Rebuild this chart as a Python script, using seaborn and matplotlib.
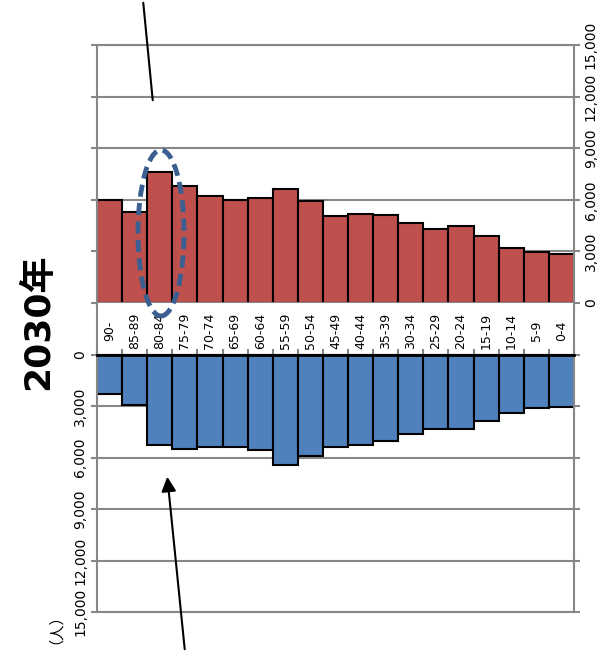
import seaborn as sns
import matplotlib.pyplot as plt
import pandas as pd
import numpy as np
from matplotlib.ticker import FuncFormatter
from matplotlib.patches import Ellipse

sns.set_style("white")
plt.rcParams['font.family'] = ['DejaVu Sans', 'Noto Sans CJK JP']
plt.rcParams['text.color'] = 'black'
plt.rcParams['xtick.labelcolor'] = 'black'
plt.rcParams['ytick.labelcolor'] = 'black'

ages = ["90-", "85-89", "80-84", "75-79", "70-74", "65-69", "60-64", "55-59", "50-54",
        "45-49", "40-44", "35-39", "30-34", "25-29", "20-24", "15-19", "10-14", "5-9", "0-4"]
female = [6000, 5300, 7620, 6780, 6220, 6000, 6100, 6600, 5930,
          5060, 5150, 5100, 4650, 4300, 4470, 3890, 3180, 2970, 2870]
male = [2310, 2970, 5300, 5530, 5380, 5360, 5590, 6420, 5920,
        5360, 5300, 5010, 4620, 4330, 4330, 3900, 3400, 3120, 3030]
ticks = [0, 3000, 6000, 9000, 12000, 15000]

df = pd.DataFrame({"age": ages, "female": female, "male": male})

grey = "#878787"
fmt = FuncFormatter(lambda v, p: f"{int(v):,}")

fig = plt.figure(figsize=(6.05, 6.52), dpi=100)
ax_top = fig.add_axes([97/605, 349/652, 477/605, 258/652])
ax_bot = fig.add_axes([97/605, 40/652, 477/605, 309/652])

# upper half (red)
sns.barplot(data=df, x="age", y="female", color="#C0504D", saturation=1, width=1,
            edgecolor="black", linewidth=1.5, ax=ax_top)
ax_top.set_ylim(0, 15000)
ax_top.set_xlim(-0.5, len(ages) - 0.5)
ax_top.set_yticks(ticks)
ax_top.yaxis.set_major_formatter(fmt)
ax_top.grid(axis="y", color=grey, lw=1.5)
ax_top.set_axisbelow(True)
ax_top.tick_params(axis="y", left=True, right=True, labelleft=False, labelright=True,
                   direction="out", length=4, width=1.5, color=grey, labelrotation=90,
                   labelsize=10, pad=3, labelcolor="black")
for lab in ax_top.get_yticklabels():
    lab.set_va("center")
ax_top.set_xticks([])
ax_top.set_xticks(np.arange(-0.5, len(ages)), minor=True)
ax_top.tick_params(axis="x", which="minor", bottom=True, direction="out", length=4,
                   width=1.5, color=grey)
for s in ax_top.spines.values():
    s.set_color(grey)
    s.set_linewidth(1.5)
ax_top.set_xlabel("")
ax_top.set_ylabel("")

# lower half (blue)
sns.barplot(data=df, x="age", y="male", color="#4F81BD", saturation=1, width=1,
            edgecolor="black", linewidth=1.5, ax=ax_bot)
ax_bot.set_ylim(15000, -3000)
ax_bot.set_xlim(-0.5, len(ages) - 0.5)
ax_bot.set_yticks(ticks)
ax_bot.yaxis.set_major_formatter(fmt)
ax_bot.grid(axis="y", color=grey, lw=1.5)
ax_bot.set_axisbelow(True)
ax_bot.tick_params(axis="y", left=True, right=True, labelleft=True, labelright=False,
                   direction="out", length=4, width=1.5, color=grey, labelrotation=90,
                   labelsize=10, pad=3, labelcolor="black")
for lab in ax_bot.get_yticklabels():
    lab.set_va("center")
ax_bot.xaxis.set_ticks_position("top")
ax_bot.set_xticks([])
ax_bot.set_xticks(np.arange(-0.5, len(ages)), minor=True)
ax_bot.tick_params(axis="x", which="minor", top=True, bottom=False, direction="out",
                   length=4, width=1.5, color=grey)
for s in ax_bot.spines.values():
    s.set_color(grey)
    s.set_linewidth(1.5)
ax_bot.spines["top"].set_position(("data", 0))
ax_bot.spines["top"].set_color("black")
ax_bot.spines["top"].set_linewidth(2)
ax_bot.set_xlabel("")
ax_bot.set_ylabel("")

for i, a in enumerate(ages):
    ax_bot.text(i, -1400, a, rotation=90, ha="center", va="center", fontsize=9,
                color="black")

# title and unit
fig.text(38/605, 1 - 322/652, "2030年", rotation=90, fontsize=26, fontweight="bold",
         ha="center", va="center", color="black")
fig.text(47/605, 1 - 621/652, "（人）", rotation=90, fontsize=11, ha="center", va="center",
         color="black")

# callouts
ax_top.annotate("", xy=(153, 652 - 103), xycoords="figure pixels",
                xytext=(143, 652), textcoords="figure pixels",
                arrowprops=dict(arrowstyle="-", color="black", lw=1.5))
ax_bot.annotate("", xy=(167, 652 - 474), xycoords="figure pixels",
                xytext=(185, 0), textcoords="figure pixels",
                arrowprops=dict(arrowstyle="-|>", color="black", lw=1.5, mutation_scale=22))
fig.add_artist(Ellipse((161/605, 1 - 233/652), 46/605, 166/652, transform=fig.transFigure,
                       fill=False, edgecolor="#3B5F91", lw=3.5, linestyle=(0, (2.5, 1.3))))

fig.savefig("out.png", dpi=100)
